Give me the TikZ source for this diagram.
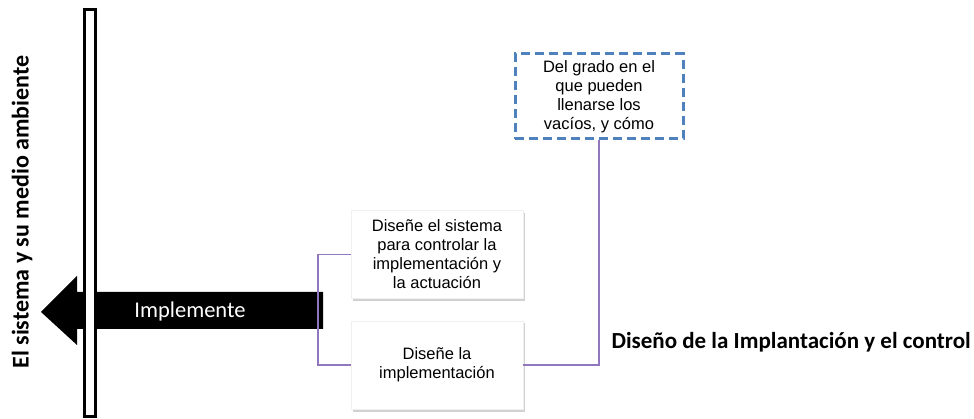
\documentclass[tikz,border=0pt]{standalone}
\usepackage{fontspec}
\setmainfont{Carlito}
\newfontfamily\boxfont{Liberation Sans}
\usepackage{tikz}
\usetikzlibrary{shadows}
\definecolor{linkpurple}{RGB}{145,120,190}
\definecolor{dashblue}{RGB}{79,129,189}

\begin{document}
\begin{tikzpicture}[x=1pt,y=-1pt,
  taskbox/.style={fill=white,draw=black!6,minimum width=172pt,minimum height=88pt,
    align=center,font=\boxfont\fontsize{16.5}{19}\selectfont,
    drop shadow={shadow xshift=2pt,shadow yshift=-2.5pt,fill=black!30,opacity=0.6}},
  gapbox/.style={draw=dashblue,line width=3pt,dash pattern=on 9pt off 5pt,
    minimum width=168pt,minimum height=85pt,align=center,
    font=\boxfont\fontsize{16.5}{19}\selectfont},
  link/.style={draw=linkpurple,line width=1.2pt}]
\useasboundingbox (0,0) rectangle (974,419);
\fill[black] (41,312)--(77,276)--(77,292)--(323,292)--(323,329)--(77,329)--(77,345)--cycle;
\node[text=white,font=\fontsize{22.5}{27}\selectfont] (impl) at (190,312) {Implemente};
\draw[line width=3pt,fill=white] (84.5,10) rectangle (95.5,416);
\node[rotate=90,font=\bfseries\fontsize{24}{28}\selectfont] (env) at (22,212) {El sistema y su medio ambiente};
\node[taskbox] (ctrl) at (437,254.5) {Diseñe el sistema\\para controlar la\\implementación y\\la actuación};
\node[taskbox] (impdes) at (437,365) {Diseñe la\\implementación};
\node[gapbox] (gap) at (599,96.5) {Del grado en el\\que pueden\\llenarse los\\vacíos, y cómo};
\node[anchor=west,font=\bfseries\fontsize{23}{27}\selectfont] (title) at (608,342) {Diseño de la Implantación y el control};
\coordinate (brk) at (318,0);
\draw[link] (ctrl.west) -- (ctrl.west -| brk) |- (impdes.west);
\draw[link] (impdes.east) -| (gap.south);
\end{tikzpicture}
\end{document}
